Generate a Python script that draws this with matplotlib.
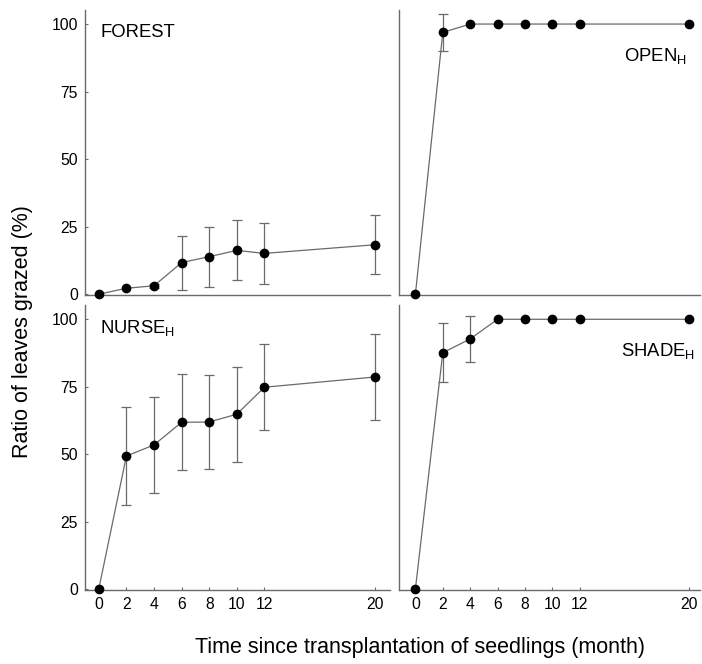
import matplotlib
matplotlib.use("Agg")
import matplotlib.pyplot as plt

plt.rcParams['font.family'] = ['Liberation Sans', 'DejaVu Sans']
plt.rcParams['mathtext.default'] = 'regular'

months = [0, 2, 4, 6, 8, 10, 12, 20]
month_labels = ['0', '2', '4', '6', '8', '10', '12', '20']

forest = [0, 2.2, 3.1, 11.7, 13.9, 16.2, 15.1, 18.3]
forest_err = [0, 0, 0.8, 10.0, 11.1, 11.1, 11.4, 11.0]

open_h = [0, 96.9, 100, 100, 100, 100, 100, 100]
open_err = [0, 6.7, 0, 0, 0, 0, 0, 0]

nurse_h = [0, 49.3, 53.4, 61.8, 61.9, 64.8, 74.8, 78.6]
nurse_err = [0, 18.1, 17.7, 17.8, 17.6, 17.6, 15.9, 16.0]

shade_h = [0, 87.6, 92.7, 100, 100, 100, 100, 100]
shade_err = [0, 11.0, 8.5, 0, 0, 0, 0, 0]

grey = '#6a6a6a'

fig = plt.figure(figsize=(7.02, 6.64), dpi=100)

# panel boxes in figure fractions
W, H = 702, 664
def box(x0, y0, x1, y1):
    return [x0 / W, 1 - y1 / H, (x1 - x0) / W, (y1 - y0) / H]

ax_f = fig.add_axes(box(85, 10, 390, 295))
ax_o = fig.add_axes(box(399, 10, 700, 295))
ax_n = fig.add_axes(box(85, 305, 390, 590))
ax_s = fig.add_axes(box(399, 305, 700, 590))

panels = [
    (ax_f, forest, forest_err, 'FOREST', 'left', 0.05, 0.92, (-1.0, 21.1), (-0.3, 105.2)),
    (ax_o, open_h, open_err, '$OPEN_H$', 'right', 0.955, 0.84, (-1.2, 20.8), (-0.3, 105.2)),
    (ax_n, nurse_h, nurse_err, '$NURSE_H$', 'left', 0.05, 0.92, (-1.0, 21.1), (-0.4, 105.3)),
    (ax_s, shade_h, shade_err, '$SHADE_H$', 'right', 0.985, 0.84, (-1.2, 20.8), (-0.4, 105.3)),
]

for ax, vals, err, label, ha, tx, ty, xl, yl in panels:
    ax.errorbar(months, vals, yerr=[e if e > 0 else float('nan') for e in err],
                fmt='none', ecolor=grey, elinewidth=0.9, capsize=3.5, capthick=0.9)
    ax.plot(months, vals, color=grey, linewidth=0.9, zorder=3)
    ax.plot(months, vals, 'o', color='black', markersize=6, zorder=4, clip_on=False)
    ax.set_xlim(*xl)
    ax.set_ylim(*yl)
    for s in ['top', 'right']:
        ax.spines[s].set_visible(False)
    for s in ['left', 'bottom']:
        ax.spines[s].set_color(grey)
        ax.spines[s].set_linewidth(1.0)
    ax.tick_params(direction='in', length=2.5, width=0.8, color=grey,
                   labelsize=11.3, pad=5)
    ax.set_xticks(months)
    ax.set_yticks([0, 25, 50, 75, 100])
    ax.text(tx, ty, label, transform=ax.transAxes, ha=ha, va='center', fontsize=13.3)

for ax in (ax_f, ax_o):
    ax.tick_params(axis='x', bottom=False, labelbottom=False)
for ax in (ax_o, ax_s):
    ax.tick_params(axis='y', left=False, labelleft=False)
for ax in (ax_n, ax_s):
    ax.set_xticklabels(month_labels)

fig.text(23 / W, 1 - 332 / H, 'Ratio of leaves grazed (%)', rotation=90,
         ha='center', va='center', fontsize=15.5)
fig.text(420 / W, 1 - 647 / H, 'Time since transplantation of seedlings (month)',
         ha='center', va='center', fontsize=15.5)

fig.savefig('out.png', dpi=100, facecolor='white')
